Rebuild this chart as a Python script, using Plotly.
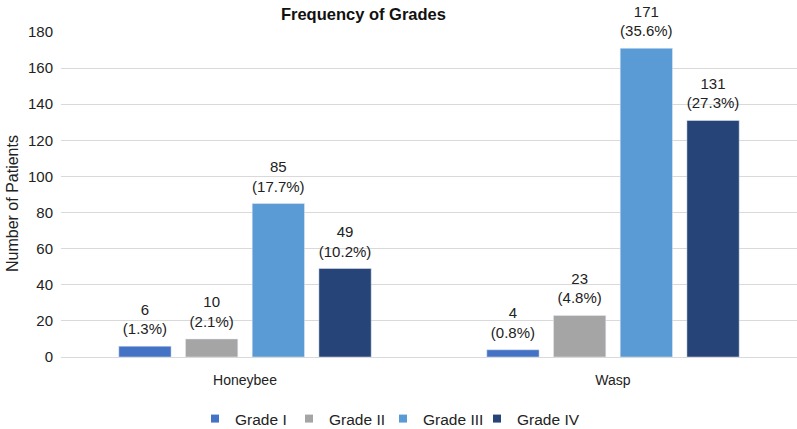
import plotly.graph_objects as go

categories = ["Honeybee", "Wasp"]
grades = ["Grade I", "Grade II", "Grade III", "Grade IV"]
counts = {
    "Grade I": [6, 4],
    "Grade II": [10, 23],
    "Grade III": [85, 171],
    "Grade IV": [49, 131],
}
percents = {
    "Grade I": ["1.3%", "0.8%"],
    "Grade II": ["2.1%", "4.8%"],
    "Grade III": ["17.7%", "35.6%"],
    "Grade IV": ["10.2%", "27.3%"],
}
colors = {
    "Grade I": "#4472C4",
    "Grade II": "#A5A5A5",
    "Grade III": "#5B9BD5",
    "Grade IV": "#264478",
}

GAP = 0.275

fig = go.Figure()
for g in grades:
    fig.add_trace(go.Bar(
        x=categories, y=counts[g], name=g,
        marker_color=colors[g], showlegend=False, hoverinfo="skip",
    ))
# data labels, grouped to align with the bars
for g in grades:
    fig.add_trace(go.Scatter(
        x=categories, y=counts[g], mode="markers+text", showlegend=False,
        marker=dict(size=11.6, opacity=0, color=colors[g]),
        text=[f"{v}<br>({p})" for v, p in zip(counts[g], percents[g])],
        textposition="top center", textfont=dict(size=15, color="#222"),
        cliponaxis=False, hoverinfo="skip",
    ))
# legend entries with small square swatches (on hidden overlay axes)
for g in grades:
    fig.add_trace(go.Scatter(
        x=[None], y=[None], mode="markers", name=g, xaxis="x2", yaxis="y2",
        marker=dict(symbol="square", size=8, color=colors[g]),
    ))
# invisible spacer entry so the last legend label is not clipped
fig.add_trace(go.Scatter(
    x=[None], y=[None], mode="markers", name="\u00a0", xaxis="x2", yaxis="y2",
    marker=dict(symbol="square", size=8, color="rgba(0,0,0,0)"),
))

fig.update_layout(
    width=797, height=429,
    margin=dict(l=61, r=0, t=32, b=72, autoexpand=False),
    font=dict(family="Liberation Sans, Arial", size=15, color="#222"),
    title=dict(text="<b>Frequency of Grades</b>", x=0.456, xanchor="center", xref="container",
               y=1 - 14 / 429, yanchor="middle", yref="container", font=dict(size=16.5, color="#111")),
    barmode="group", bargap=GAP, bargroupgap=0.216,
    scattermode="group", scattergap=GAP,
    plot_bgcolor="white", paper_bgcolor="white",
    xaxis2=dict(overlaying="x", visible=False),
    yaxis2=dict(overlaying="y", visible=False),
    legend=dict(orientation="h", x=195 / 797, xanchor="left", xref="container",
                y=1 - 419 / 429, yanchor="middle", yref="container",
                font=dict(size=15.5), itemwidth=30, entrywidth=49),
    annotations=[dict(text="Number of Patients", textangle=-90, xref="paper", yref="paper",
                      x=(13 - 61) / 736, y=(357 - 204) / 325, showarrow=False,
                      xanchor="center", yanchor="middle", font=dict(size=16, color="#222"))],
)
fig.update_yaxes(selector=dict(overlaying=None), range=[0, 180], dtick=20, showgrid=True,
                 gridcolor="#D9D9D9", zeroline=True, zerolinecolor="#D9D9D9", zerolinewidth=1,
                 tickfont=dict(size=15), ticks="", ticklabelstandoff=7, automargin=False)
fig.update_xaxes(selector=dict(overlaying=None), showline=False, tickfont=dict(size=14),
                 ticks="", ticklabelstandoff=13, automargin=False)

fig.write_html("out.html", config={"displayModeBar": False},
               post_script="document.body.style.margin='0px';")
